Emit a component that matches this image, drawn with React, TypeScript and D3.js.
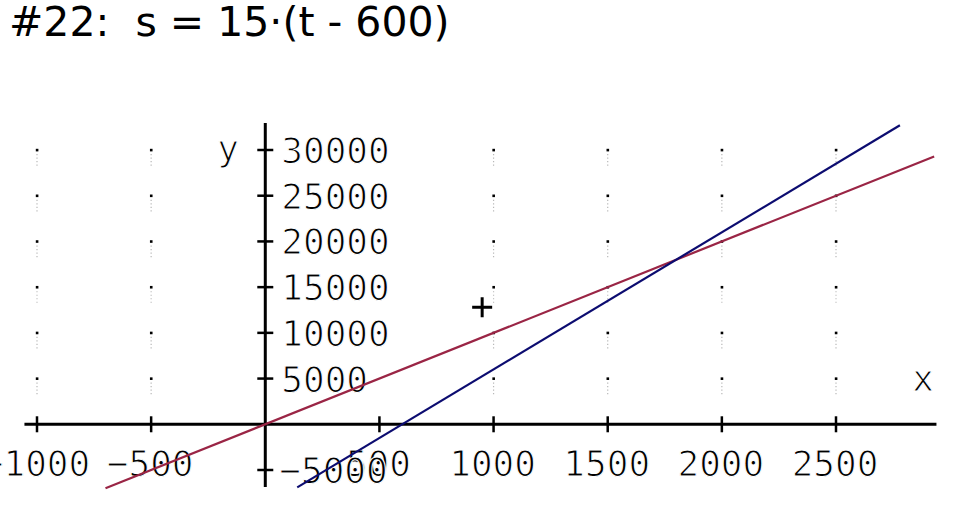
import React from "react";
import * as d3 from "d3";

const W = 959;
const H = 519;

const titleText = "#22:  s = 15·(t - 600)";
const xTicks = [-1000, -500, 500, 1000, 1500, 2000, 2500];
const xTickLabels = ["−1000", "−500", "500", "1000", "1500", "2000", "2500"];
const yTicks = [30000, 25000, 20000, 15000, 10000, 5000, -5000];
const yTickLabels = ["30000", "25000", "20000", "15000", "10000", "5000", "−5000"];
const gridCols = [-1000, -500, 1000, 1500, 2000, 2500];
const gridRows = [5000, 10000, 15000, 20000, 25000, 30000];
const xAxisExtent = [-1055, 2940];
const yAxisExtent = [-6850, 32950];
// series endpoints [t, s]
const redLine: [number, number][] = [[-700, -7000], [2930, 29300]];
const blueLine: [number, number][] = [[140, -6900], [2780, 32700]];
const cursorPoint: [number, number] = [950, 12800];

const x = d3.scaleLinear().domain([-1000, 2500]).range([37, 836]);
const y = d3.scaleLinear().domain([-5000, 30000]).range([470, 150]);

const line = d3
  .line<[number, number]>()
  .x((d) => x(d[0]))
  .y((d) => y(d[1]));

const monoFont = "'DejaVu Sans Mono', monospace";
const thin = { stroke: "#fff", strokeWidth: 1.1, paintOrder: "normal" } as const;

export default function App() {
  const x0 = x(0);
  const y0 = y(0);
  return (
    <svg
      width={W}
      height={H}
      viewBox={`0 0 ${W} ${H}`}
      style={{ position: "absolute", left: 0, top: 0, background: "#fff" }}
    >
      <rect width={W} height={H} fill="#fff" />
      <text
        x={9}
        y={36}
        fontFamily="'DejaVu Sans', Verdana, sans-serif"
        fontSize={41}
        fill="#000"
        xmlSpace="preserve"
        style={{ whiteSpace: "pre" }}
      >
        {titleText}
      </text>

      {/* grid dots */}
      {gridCols.map((c) =>
        gridRows.map((r) => (
          <g key={`${c}_${r}`}>
            <line
              x1={x(c)}
              x2={x(c)}
              y1={y(r) + 4}
              y2={y(r) + 16}
              stroke="#b8b8b8"
              strokeWidth={1.2}
              strokeDasharray="1.2 2.3"
            />
            <rect x={x(c) - 1.2} y={y(r) - 1.2} width={2.6} height={2.6} fill="#000" />
          </g>
        ))
      )}

      {/* axes */}
      <line
        x1={x(xAxisExtent[0])}
        x2={x(xAxisExtent[1])}
        y1={y0}
        y2={y0}
        stroke="#000"
        strokeWidth={3}
      />
      <line
        x1={x0}
        x2={x0}
        y1={y(yAxisExtent[1])}
        y2={y(yAxisExtent[0])}
        stroke="#000"
        strokeWidth={3}
      />
      {xTicks.map((t) => (
        <line key={t} x1={x(t)} x2={x(t)} y1={y0 - 8} y2={y0 + 8} stroke="#000" strokeWidth={2.5} />
      ))}
      {yTicks.map((t) => (
        <line key={t} x1={x0 - 8} x2={x0 + 8} y1={y(t)} y2={y(t)} stroke="#000" strokeWidth={2.5} />
      ))}

      {/* tick labels */}
      {xTicks.map((t, i) => (
        <text
          key={t}
          x={x(t) - 1}
          y={y0 + 52}
          textAnchor="middle"
          fontFamily={monoFont}
          fontSize={36}
          fill="#000"
          {...thin}
        >
          {xTickLabels[i]}
        </text>
      ))}
      {yTicks.map((t, i) => (
        <text
          key={t}
          x={t < 0 ? x0 + 14 : x0 + 16}
          y={y(t) + 13}
          textAnchor="start"
          fontFamily={monoFont}
          fontSize={36}
          fill="#000"
          {...thin}
        >
          {yTickLabels[i]}
        </text>
      ))}
      <text x={228} y={161} textAnchor="middle" fontFamily={monoFont} fontSize={36} fill="#000" {...thin}>
        y
      </text>
      <text x={923} y={391} textAnchor="middle" fontFamily={monoFont} fontSize={36} fill="#000" {...thin}>
        x
      </text>

      {/* lines */}
      <path d={line(redLine) || ""} fill="none" stroke="#9a2545" strokeWidth={2.2} />
      <path d={line(blueLine) || ""} fill="none" stroke="#0c0c70" strokeWidth={2.2} />

      {/* cursor */}
      <g stroke="#000" strokeWidth={3}>
        <line
          x1={x(cursorPoint[0]) - 10}
          x2={x(cursorPoint[0]) + 10}
          y1={y(cursorPoint[1])}
          y2={y(cursorPoint[1])}
        />
        <line
          x1={x(cursorPoint[0])}
          x2={x(cursorPoint[0])}
          y1={y(cursorPoint[1]) - 10}
          y2={y(cursorPoint[1]) + 10}
        />
      </g>
    </svg>
  );
}
